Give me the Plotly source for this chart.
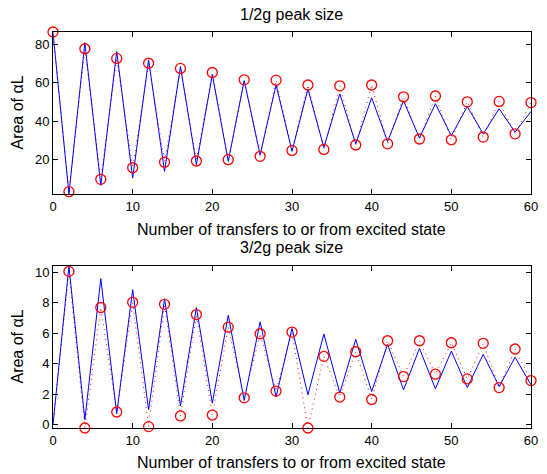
import plotly.graph_objects as go

# Top panel (1/2g peak size)
x_even = list(range(0, 61, 2))
top_model = [86.0, 2.3, 80.8, 6.7, 76.2, 10.6, 71.9, 14.0, 68.4, 17.5, 64.1, 19.2, 61.1, 22.6,
             58.9, 24.4, 56.7, 26.4, 54.2, 28.3, 52.2, 29.5, 50.6, 31.3, 49.1, 32.5, 47.7,
             33.5, 46.5, 34.4, 45.1]
top_data = [86.3, 3.5, 77.6, 9.9, 72.6, 15.9, 70.1, 18.8, 67.4, 19.4, 65.3, 20.1, 61.5, 21.8,
            61.3, 24.9, 58.8, 25.4, 58.4, 27.7, 58.8, 28.3, 52.7, 30.8, 53.1, 30.4, 50.1,
            31.8, 50.3, 33.5, 49.7]

# Bottom panel (3/2g peak size)
bot_model = [0.0, 10.4, 0.33, 9.57, 0.72, 8.85, 0.98, 8.26, 1.24, 7.68, 1.41, 7.18, 1.59, 6.74,
             1.81, 6.31, 1.96, 5.94, 2.07, 5.59, 2.17, 5.26, 2.28, 5.0, 2.35, 4.83, 2.43,
             4.61, 2.5, 4.42, 2.61]
bot_x_circ = list(range(2, 61, 2))
bot_data = [10.05, -0.22, 7.68, 0.83, 8.02, -0.13, 7.89, 0.57, 7.22, 0.63, 6.39, 1.76, 5.96,
            2.2, 6.07, -0.22, 4.48, 1.81, 4.78, 1.65, 5.5, 3.15, 5.5, 3.31, 5.37, 3.0, 5.33,
            2.43, 4.96, 2.89]
bot_line_x = [0] + bot_x_circ
bot_line_y = [0.0] + bot_data

titles = ["1/2g peak size", "3/2g peak size"]
xlabel = "Number of transfers to or from excited state"
ylabel = "Area of αL"

BLUE = "#0000FF"
RED = "#FF0000"
FONT = "Liberation Sans, Arial, sans-serif"

fig = go.Figure()

def add_panel(xl, yl, xc, yc, xm, ym, xa, ya):
    fig.add_trace(go.Scatter(x=xl, y=yl, mode="lines",
                             line=dict(color=RED, width=1, dash="1px,4px"),
                             xaxis=xa, yaxis=ya, showlegend=False, cliponaxis=False))
    fig.add_trace(go.Scatter(x=xm, y=ym, mode="lines", line=dict(color=BLUE, width=1),
                             xaxis=xa, yaxis=ya, showlegend=False, cliponaxis=False))
    fig.add_trace(go.Scatter(x=xc, y=yc, mode="markers",
                             marker=dict(symbol="circle-open", size=10, color=RED,
                                         line=dict(color=RED, width=1.3)),
                             xaxis=xa, yaxis=ya, showlegend=False, cliponaxis=False))

add_panel(x_even, top_data, x_even, top_data, x_even, top_model, "x", "y")
add_panel(bot_line_x, bot_line_y, bot_x_circ, bot_data, x_even, bot_model, "x2", "y2")

axis_common = dict(showline=True, linecolor="black", linewidth=1, mirror="ticks",
                   ticks="inside", ticklen=5, tickcolor="black", showgrid=False,
                   zeroline=False, tickfont=dict(family=FONT, size=13, color="black"))

fig.update_layout(
    width=547, height=474,
    margin=dict(l=53, r=9, t=32, b=46),
    paper_bgcolor="white", plot_bgcolor="white",
    font=dict(family=FONT, color="black"),
    xaxis=dict(domain=[0, 1], range=[0, 60], tickvals=[0, 10, 20, 30, 40, 50, 60],
               anchor="y", **axis_common),
    yaxis=dict(domain=[0.591, 1], range=[2.3, 86.3], tickvals=[20, 40, 60, 80],
               anchor="x", **axis_common),
    xaxis2=dict(domain=[0, 1], range=[0, 60], tickvals=[0, 10, 20, 30, 40, 50, 60],
                anchor="y2", **axis_common),
    yaxis2=dict(domain=[0, 0.409], range=[-0.22, 10.4], tickvals=[0, 2, 4, 6, 8, 10],
                anchor="x2", **axis_common),
)

ann = []
def paper_y(py):
    return (428 - py) / 396.0
def paper_x(px):
    return (px - 53) / 485.0

ann.append(dict(text=titles[0], x=paper_x(295), y=paper_y(14)))
ann.append(dict(text=xlabel, x=paper_x(295), y=paper_y(229)))
ann.append(dict(text=titles[1], x=paper_x(295), y=paper_y(248)))
ann.append(dict(text=xlabel, x=paper_x(295), y=paper_y(462)))
for a in ann:
    a.update(xref="paper", yref="paper", xanchor="center", yanchor="middle",
             showarrow=False, font=dict(family=FONT, size=16, color="black"))
for py in (113, 347):
    ann.append(dict(text=ylabel, x=paper_x(16), y=paper_y(py), xref="paper", yref="paper",
                    xanchor="center", yanchor="middle", showarrow=False, textangle=-90,
                    font=dict(family=FONT, size=16, color="black")))
fig.update_layout(annotations=ann)

fig.write_html("out.html")
